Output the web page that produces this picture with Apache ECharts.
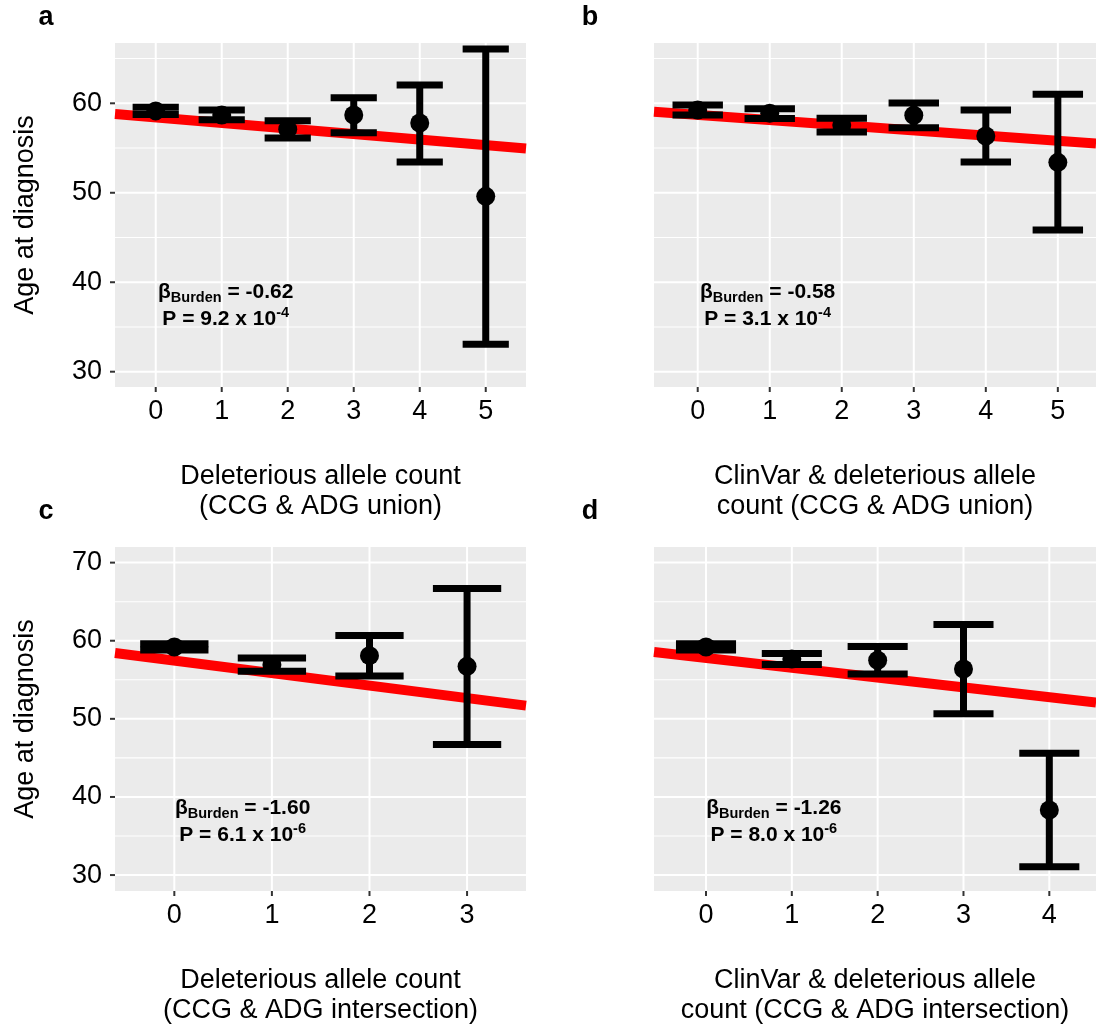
<!DOCTYPE html>
<html>
<head>
<meta charset="utf-8">
<title>Age at diagnosis by allele count</title>
<script src="https://cdn.jsdelivr.net/npm/echarts@6/dist/echarts.min.js"></script>
<style>
  html, body { margin: 0; padding: 0; background: #ffffff; }
  #chart { width: 1096px; height: 1027px; }
</style>
</head>
<body>
<div id="chart"></div>
<script>
// ---- data ----
const panelLetters = ['a', 'b', 'c', 'd'];
const xTitles = [
  'Deleterious allele count\n(CCG & ADG union)',
  'ClinVar & deleterious allele\ncount (CCG & ADG union)',
  'Deleterious allele count\n(CCG & ADG intersection)',
  'ClinVar & deleterious allele\ncount (CCG & ADG intersection)'
];
const yTitle = 'Age at diagnosis';

// panel a
const countsA = [0, 1, 2, 3, 4, 5];
const meanA   = [59.15, 58.7, 57.1, 58.7, 57.8, 49.6];
const lowerA  = [58.75, 58.15, 56.12, 56.7, 53.45, 33.07];
const upperA  = [59.55, 59.25, 58.06, 60.63, 62.05, 66.07];
const betaA = -0.62, interceptA = 58.42, pMantA = '9.2', pExpA = '-4';

// panel b
const countsB = [0, 1, 2, 3, 4, 5];
const meanB   = [59.25, 58.88, 57.57, 58.66, 56.35, 53.4];
const lowerB  = [58.7, 58.3, 56.78, 57.28, 53.44, 45.84];
const upperB  = [59.8, 59.4, 58.32, 60.02, 59.25, 61.0];
const betaB = -0.58, interceptB = 58.71, pMantB = '3.1', pExpB = '-4';

// panel c
const countsC = [0, 1, 2, 3];
const meanC   = [59.2, 56.94, 58.09, 56.72];
const lowerC  = [58.8, 56.08, 55.49, 46.72];
const upperC  = [59.6, 57.79, 60.68, 66.68];
const betaC = -1.60, interceptC = 57.46, pMantC = '6.1', pExpC = '-6';

// panel d
const countsD = [0, 1, 2, 3, 4];
const meanD   = [59.2, 57.66, 57.49, 56.39, 38.34];
const lowerD  = [58.8, 56.97, 55.75, 50.64, 31.06];
const upperD  = [59.6, 58.38, 59.27, 62.08, 45.58];
const betaD = -1.26, interceptD = 57.80, pMantD = '8.0', pExpD = '-6';

// y tick values, top and bottom rows
const yTicksTop = [30, 40, 50, 60];
const yMinorTop = [35, 45, 55, 65];
const yTicksBottom = [30, 40, 50, 60, 70];
const yMinorBottom = [35, 45, 55, 65];

// ---- layout / styling ----
const FONT = '"Liberation Sans", Arial, Helvetica, sans-serif';
const panels = [
  { counts: countsA, mean: meanA, lower: lowerA, upper: upperA, beta: betaA, b0: interceptA, pm: pMantA, pe: pExpA,
    yTicks: yTicksTop, yMinor: yMinorTop, grid: { left: 115, top: 43, width: 411, height: 344 },
    xRange: [-0.617, 5.61], yRange: [28.29, 66.74], showY: true, note: [1.06, 37.4], letter: [46, 18] },
  { counts: countsB, mean: meanB, lower: lowerB, upper: upperB, beta: betaB, b0: interceptB, pm: pMantB, pe: pExpB,
    yTicks: yTicksTop, yMinor: yMinorTop, grid: { left: 654, top: 43, width: 442, height: 344 },
    xRange: [-0.607, 5.53], yRange: [28.29, 66.74], showY: false, note: [0.97, 37.4], letter: [590, 18] },
  { counts: countsC, mean: meanC, lower: lowerC, upper: upperC, beta: betaC, b0: interceptC, pm: pMantC, pe: pExpC,
    yTicks: yTicksBottom, yMinor: yMinorBottom, grid: { left: 115, top: 547, width: 411, height: 345 },
    xRange: [-0.608, 3.604], yRange: [27.96, 72.0], showY: true, note: [0.70, 36.83], letter: [46, 512] },
  { counts: countsD, mean: meanD, lower: lowerD, upper: upperD, beta: betaD, b0: interceptD, pm: pMantD, pe: pExpD,
    yTicks: yTicksBottom, yMinor: yMinorBottom, grid: { left: 654, top: 547, width: 442, height: 345 },
    xRange: [-0.606, 4.544], yRange: [27.96, 72.0], showY: false, note: [0.79, 36.83], letter: [590, 512] }
];

const CAP_HALF = 0.35;
const TICK_LEN = 5;

const grids = [], xAxes = [], yAxes = [], series = [], graphics = [];

panels.forEach((p, i) => {
  grids.push(Object.assign({ show: true, backgroundColor: '#EBEBEB', borderWidth: 0 }, p.grid));

  xAxes.push({
    type: 'value', gridIndex: i, min: p.xRange[0], max: p.xRange[1],
    name: xTitles[i], nameLocation: 'middle', nameGap: 75,
    nameTextStyle: { fontFamily: FONT, fontSize: 27, color: '#000', lineHeight: 30 },
    axisLine: { show: false },
    axisTick: { show: false },
    axisLabel: { show: true, customValues: p.counts, margin: 11, fontFamily: FONT, fontSize: 27, color: '#000' },
    splitLine: { show: false }
  });

  yAxes.push({
    type: 'value', gridIndex: i, min: p.yRange[0], max: p.yRange[1],
    name: p.showY ? yTitle : '', nameLocation: 'middle', nameGap: 76,
    nameTextStyle: { fontFamily: FONT, fontSize: 27, color: '#000' },
    axisLine: { show: false },
    axisTick: { show: false },
    axisLabel: { show: p.showY, customValues: p.yTicks, margin: 13, fontFamily: FONT, fontSize: 27, color: '#000' },
    splitLine: { show: false }
  });

  // panel grid lines and axis ticks: 0 = vertical major, 1 = horizontal major, 2 = horizontal minor
  const gridData = []
    .concat(p.counts.map(v => [0, v]))
    .concat(p.yTicks.map(v => [1, v]))
    .concat(p.yMinor.map(v => [2, v]));
  series.push({
    type: 'custom', xAxisIndex: i, yAxisIndex: i, silent: true, z: 1, clip: false,
    data: gridData,
    encode: { x: -1, y: -1 },
    renderItem: function (params, api) {
      const kind = api.value(0), v = api.value(1);
      const cs = params.coordSys;
      const tickStyle = { stroke: '#333333', lineWidth: 2 };
      if (kind === 0) {
        const x = api.coord([v, p.yRange[0]])[0];
        const bottom = cs.y + cs.height;
        return { type: 'group', children: [
          { type: 'line', shape: { x1: x, y1: cs.y, x2: x, y2: bottom }, style: { stroke: '#FFFFFF', lineWidth: 2 } },
          { type: 'line', shape: { x1: x, y1: bottom, x2: x, y2: bottom + TICK_LEN }, style: tickStyle }
        ] };
      }
      const y = api.coord([p.xRange[0], v])[1];
      const children = [
        { type: 'line', shape: { x1: cs.x, y1: y, x2: cs.x + cs.width, y2: y },
          style: { stroke: '#FFFFFF', lineWidth: kind === 1 ? 2 : 1.1 } }
      ];
      if (kind === 1 && p.showY) {
        children.push({ type: 'line', shape: { x1: cs.x - TICK_LEN, y1: y, x2: cs.x, y2: y }, style: tickStyle });
      }
      return { type: 'group', children: children };
    }
  });

  // fitted burden line
  const xs = [p.xRange[0], p.xRange[1]];
  series.push({
    type: 'line', xAxisIndex: i, yAxisIndex: i, silent: true, z: 2,
    symbol: 'none', animation: false,
    data: xs.map(x => [x, p.b0 + p.beta * x]),
    lineStyle: { color: '#FF0000', width: 10, cap: 'butt', opacity: 1 }
  });

  // error bars
  series.push({
    type: 'custom', xAxisIndex: i, yAxisIndex: i, silent: true, z: 3,
    data: p.counts.map((c, k) => [c, p.lower[k], p.upper[k]]),
    encode: { x: 0, y: [1, 2] },
    renderItem: function (params, api) {
      const x = api.value(0), lo = api.value(1), hi = api.value(2);
      const pLo = api.coord([x, lo]), pHi = api.coord([x, hi]);
      const xl = api.coord([x - CAP_HALF, lo])[0], xr = api.coord([x + CAP_HALF, lo])[0];
      const st = { stroke: '#000', lineWidth: 7, lineCap: 'butt' };
      return { type: 'group', children: [
        { type: 'line', shape: { x1: pLo[0], y1: pLo[1], x2: pHi[0], y2: pHi[1] }, style: st },
        { type: 'line', shape: { x1: xl, y1: pLo[1], x2: xr, y2: pLo[1] }, style: st },
        { type: 'line', shape: { x1: xl, y1: pHi[1], x2: xr, y2: pHi[1] }, style: st }
      ] };
    }
  });

  // means
  series.push({
    type: 'scatter', xAxisIndex: i, yAxisIndex: i, silent: true, z: 4,
    symbol: 'circle', symbolSize: 19,
    itemStyle: { color: '#000', opacity: 1 },
    data: p.counts.map((c, k) => [c, p.mean[k]])
  });

  // burden statistic note
  series.push({
    type: 'scatter', xAxisIndex: i, yAxisIndex: i, silent: true, z: 5,
    symbolSize: 0,
    itemStyle: { opacity: 1 },
    data: [p.note],
    label: {
      show: true, position: 'inside', align: 'center', verticalAlign: 'middle', opacity: 1,
      formatter: '{m|\u03B2}{s|Burden}{m| = ' + p.beta.toFixed(2) + '}\n{m|P = ' + p.pm + ' x 10}{e|' + p.pe + '}',
      rich: {
        m: { fontFamily: FONT, fontWeight: 'bold', fontSize: 21, color: '#000', lineHeight: 27 },
        s: { fontFamily: FONT, fontWeight: 'bold', fontSize: 14.5, color: '#000', lineHeight: 14, verticalAlign: 'bottom' },
        e: { fontFamily: FONT, fontWeight: 'bold', fontSize: 14.5, color: '#000', lineHeight: 14, verticalAlign: 'top' }
      }
    }
  });

  graphics.push({
    type: 'text', x: p.letter[0], y: p.letter[1], silent: true,
    style: { text: panelLetters[i], fontFamily: FONT, fontWeight: 'bold', fontSize: 27,
             fill: '#000', textAlign: 'center', textVerticalAlign: 'middle' }
  });
});

const chart = echarts.init(document.getElementById('chart'), null, { renderer: 'canvas' });
chart.setOption({
  animation: false,
  backgroundColor: '#ffffff',
  grid: grids,
  xAxis: xAxes,
  yAxis: yAxes,
  series: series,
  graphic: graphics
});
</script>
</body>
</html>
